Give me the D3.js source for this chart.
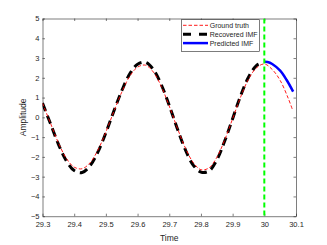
<!DOCTYPE html>
<html>
<head>
<meta charset="utf-8">
<script src="https://cdn.jsdelivr.net/npm/d3@7"></script>
<style>
  body { margin: 0; background: #fff; }
  text { font-family: "Liberation Sans", Arial, sans-serif; fill: #262626; }
</style>
</head>
<body>
<div id="chart"></div>
<script>
// values
var truthT = [29.300, 29.325, 29.350, 29.375, 29.400, 29.425, 29.450, 29.475, 29.500, 29.525,
              29.550, 29.575, 29.600, 29.625, 29.650, 29.675, 29.700, 29.725, 29.750, 29.775,
              29.800, 29.825, 29.850, 29.875, 29.900, 29.925, 29.950, 29.975, 30.000, 30.025,
              30.050, 30.075, 30.090];
var truthV = [0.72, -0.29, -1.28, -2.07, -2.52, -2.60, -2.30, -1.65, -0.74, 0.29,
              1.27, 2.07, 2.54, 2.64, 2.29, 1.56, 0.57, -0.52, -1.52, -2.27,
              -2.65, -2.56, -2.03, -1.14, -0.07, 1.02, 1.93, 2.50, 2.70, 2.42,
              1.87, 0.98, 0.34];

var recT = [29.300, 29.325, 29.350, 29.375, 29.400, 29.425, 29.450, 29.475, 29.500, 29.525,
            29.550, 29.575, 29.600, 29.625, 29.650, 29.675, 29.700, 29.725, 29.750, 29.775,
            29.800, 29.825, 29.850, 29.875, 29.900, 29.925, 29.950, 29.975, 29.990];
var recV = [0.72, -0.31, -1.35, -2.19, -2.69, -2.79, -2.45, -1.75, -0.78, 0.31,
            1.34, 2.19, 2.69, 2.78, 2.42, 1.65, 0.60, -0.55, -1.61, -2.40,
            -2.77, -2.72, -2.16, -1.20, -0.07, 1.08, 2.03, 2.62, 2.75];

var predT = [30.000, 30.010, 30.025, 30.050, 30.070, 30.091];
var predV = [2.81, 2.80, 2.70, 2.36, 1.90, 1.30];

var splitT = 30;

var xTicks = [29.3, 29.4, 29.5, 29.6, 29.7, 29.8, 29.9, 30, 30.1];
var yTicks = [-5, -4, -3, -2, -1, 0, 1, 2, 3, 4, 5];

var legendNames = ["Ground truth", "Recovered IMF", "Predicted IMF"];

var svgWidth = 327, svgHeight = 245;
var margin = { top: 18.5, right: 31, bottom: 28.8, left: 42.5 };
var width = svgWidth - margin.left - margin.right;
var height = svgHeight - margin.top - margin.bottom;

var svg = d3.select("#chart").append("svg")
    .attr("width", svgWidth)
    .attr("height", svgHeight);

var g = svg.append("g")
    .attr("transform", `translate(${margin.left}, ${margin.top})`);

var xScale = d3.scaleLinear().domain([29.3, 30.1]).range([0, width]);
var yScale = d3.scaleLinear().domain([-5, 5]).range([height, 0]);

// clip
svg.append("defs").append("clipPath").attr("id", "clip")
  .append("rect").attr("width", width).attr("height", height);

// axes (box with inward ticks)
var axisColor = "#262626";
var tickLen = 2.5;

var xAxis = g.append("g")
    .attr("transform", `translate(0, ${height})`)
    .call(d3.axisBottom(xScale).tickValues(xTicks).tickSizeInner(-tickLen).tickSizeOuter(0)
      .tickFormat(d3.format("")));
var xTop = g.append("g")
    .call(d3.axisTop(xScale).tickValues(xTicks).tickSizeInner(-tickLen).tickSizeOuter(0).tickFormat(""));
var yAxis = g.append("g")
    .call(d3.axisLeft(yScale).tickValues(yTicks).tickSizeInner(-tickLen).tickSizeOuter(0));
var yRight = g.append("g")
    .attr("transform", `translate(${width}, 0)`)
    .call(d3.axisRight(yScale).tickValues(yTicks).tickSizeInner(-tickLen).tickSizeOuter(0).tickFormat(""));

[xAxis, xTop, yAxis, yRight].forEach(function(a) {
  a.selectAll("path").attr("stroke", axisColor).attr("stroke-width", 0.6);
  a.selectAll("line").attr("stroke", axisColor).attr("stroke-width", 0.6);
  a.selectAll("text").style("font-size", "7.5px").attr("fill", axisColor);
});
xAxis.selectAll("text").attr("y", 5.5).attr("dy", "0.71em");
yAxis.selectAll("text").attr("x", -3);

var line = d3.line()
    .x(function(d) { return xScale(d[0]); })
    .y(function(d) { return yScale(d[1]); })
    .curve(d3.curveCatmullRom.alpha(0.5));

var plot = g.append("g").attr("clip-path", "url(#clip)");

plot.append("path")
    .datum(recT.map(function(t, i) { return [t, recV[i]]; }))
    .attr("d", line)
    .attr("fill", "none")
    .attr("stroke", "#000")
    .attr("stroke-width", 3)
    .attr("stroke-dasharray", "8.5,5");

plot.append("path")
    .datum(truthT.map(function(t, i) { return [t, truthV[i]]; }))
    .attr("d", line)
    .attr("fill", "none")
    .attr("stroke", "#ff0000")
    .attr("stroke-width", 0.9)
    .attr("stroke-dasharray", "3.5,2");

plot.append("path")
    .datum(predT.map(function(t, i) { return [t, predV[i]]; }))
    .attr("d", line)
    .attr("fill", "none")
    .attr("stroke", "#0000ff")
    .attr("stroke-width", 2.5);

plot.append("line")
    .attr("x1", xScale(splitT)).attr("x2", xScale(splitT))
    .attr("y1", 0).attr("y2", height)
    .attr("stroke", "#00ff00")
    .attr("stroke-width", 2)
    .attr("stroke-dasharray", "5,3");

// legend
var leg = svg.append("g").attr("transform", "translate(181.5, 19.7)");
leg.append("rect")
    .attr("width", 78).attr("height", 31.6)
    .attr("fill", "#fff")
    .attr("stroke", axisColor)
    .attr("stroke-width", 0.6);
var legStyles = [
  { color: "#ff0000", w: 0.9, dash: "3.5,2" },
  { color: "#000", w: 3, dash: "8,8" },
  { color: "#0000ff", w: 2.5, dash: null }
];
legendNames.forEach(function(name, i) {
  var y = 5.6 + i * 8.9;
  leg.append("line")
    .attr("x1", 1.5).attr("x2", 26.5)
    .attr("y1", y).attr("y2", y)
    .attr("stroke", legStyles[i].color)
    .attr("stroke-width", legStyles[i].w)
    .attr("stroke-dasharray", legStyles[i].dash);
  leg.append("text")
    .attr("x", 28.2).attr("y", y)
    .attr("dy", "0.35em")
    .style("font-size", "7px")
    .text(name);
});

// axis labels
g.append("text")
    .attr("transform", "rotate(-90)")
    .attr("x", -height / 2)
    .attr("y", -16.5)
    .attr("text-anchor", "middle")
    .style("font-size", "8.5px")
    .text("Amplitude");

g.append("text")
    .attr("x", width / 2)
    .attr("y", height + 24.5)
    .attr("text-anchor", "middle")
    .style("font-size", "8.5px")
    .text("Time");
</script>
</body>
</html>
